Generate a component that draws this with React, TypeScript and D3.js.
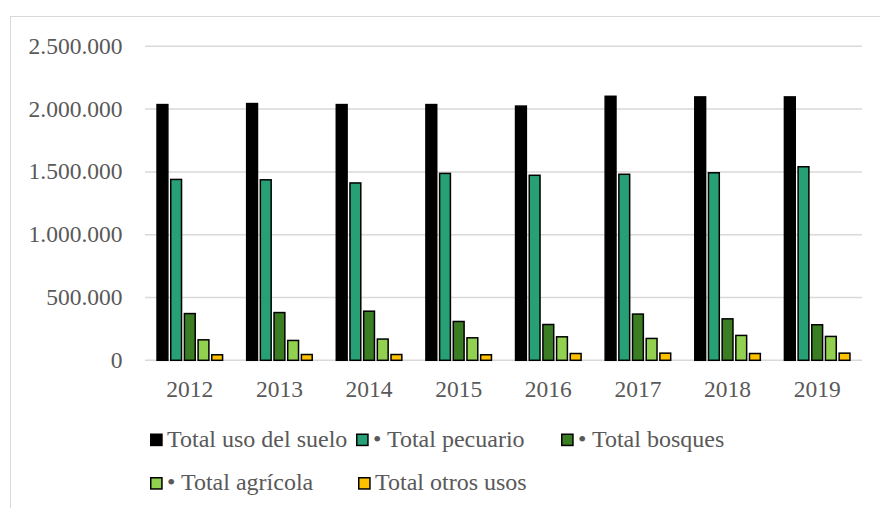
import React from "react";
import * as d3 from "d3";

const years = ["2012", "2013", "2014", "2015", "2016", "2017", "2018", "2019"];
const seriesNames = [
  "Total uso del suelo",
  "• Total pecuario",
  "• Total bosques",
  "• Total agrícola",
  "Total otros usos",
];
const totalUsoSuelo = [2042000, 2050000, 2042000, 2042000, 2030000, 2108000, 2103000, 2103000];
const totalPecuario = [1446000, 1443000, 1418000, 1494000, 1479000, 1487000, 1499000, 1547000];
const totalBosques = [378000, 386000, 397000, 315000, 291000, 374000, 336000, 289000];
const totalAgricola = [169000, 164000, 175000, 185000, 193000, 180000, 204000, 196000];
const totalOtros = [50000, 52000, 52000, 50000, 60000, 63000, 60000, 63000];
const yTicks = [0, 500000, 1000000, 1500000, 2000000, 2500000];
const colors = ["#000000", "#26a074", "#3b7d23", "#92d050", "#ffc000"];

const seriesValues = [totalUsoSuelo, totalPecuario, totalBosques, totalAgricola, totalOtros];

const W = 880;
const H = 508;
const left = 145;
const right = 862;
const top = 46.3;
const bottom = 360.3;
const FONT = "'Liberation Serif', 'Times New Roman', serif";
const TEXT = "#595959";
const FS = 23.5;
const LFS = 24;

const fmt = (v: number) =>
  v === 0 ? "0" : d3.format(",")(v).replace(/,/g, ".");

export default function App() {
  const x0 = d3
    .scaleBand<string>()
    .domain(years)
    .range([left, right])
    .paddingInner(0.252)
    .paddingOuter(0.126);
  const x1 = d3
    .scaleBand<string>()
    .domain(seriesNames)
    .range([0, x0.bandwidth()])
    .paddingInner(0.1)
    .paddingOuter(0);
  const y = d3.scaleLinear().domain([0, 2500000]).range([bottom, top]);
  const step = (right - left) / years.length;

  const legendItems = [
    { i: 0, x: 150, y: 433.5 },
    { i: 1, x: 356, y: 433.5 },
    { i: 2, x: 561, y: 433.5 },
    { i: 3, x: 150, y: 477 },
    { i: 4, x: 358, y: 477 },
  ];

  return (
    <svg
      width={W}
      height={H}
      style={{ position: "absolute", left: 0, top: 0, background: "#fff" }}
    >
      <rect x={10.5} y={16.5} width={W} height={H} fill="#fff" stroke="#d9d9d9" strokeWidth={1} />
      {yTicks.map((t) => (
        <g key={t}>
          <line x1={left} x2={right} y1={y(t)} y2={y(t)} stroke="#d9d9d9" strokeWidth={1.5} />
          <text
            x={122.5}
            y={y(t)}
            dy="0.32em"
            textAnchor="end"
            fontFamily={FONT}
            fontSize={FS}
            fill={TEXT}
          >
            {fmt(t)}
          </text>
        </g>
      ))}
      {years.map((yr, yi) => (
        <g key={yr}>
          {seriesValues.map((vals, si) => {
            const bx = (x0(yr) as number) + (x1(seriesNames[si]) as number);
            const bw = x1.bandwidth();
            const v = vals[yi];
            return (
              <rect
                key={si}
                x={bx + 0.75}
                y={y(v) + 0.75}
                width={bw - 1.5}
                height={y(0) - y(v) - 0.75}
                fill={colors[si]}
                stroke="#000"
                strokeWidth={1.5}
              />
            );
          })}
          <text
            x={left + step * yi + step / 2}
            y={397.3}
            textAnchor="middle"
            fontFamily={FONT}
            fontSize={FS}
            fill={TEXT}
          >
            {yr}
          </text>
        </g>
      ))}
      {legendItems.map(({ i, x, y: ly }) => (
        <g key={i}>
          <rect
            x={x + 0.75}
            y={ly + 0.75}
            width={11.2}
            height={11.2}
            fill={colors[i]}
            stroke="#000"
            strokeWidth={1.5}
          />
          <text x={x + 17} y={ly + 13.3} fontFamily={FONT} fontSize={LFS} fill={TEXT}>
            {seriesNames[i]}
          </text>
        </g>
      ))}
    </svg>
  );
}
